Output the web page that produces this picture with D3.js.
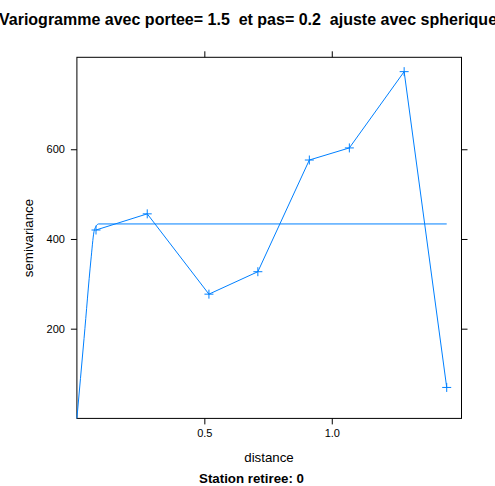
<!doctype html>
<html lang="fr">
<head>
  <meta charset="utf-8">
  <title>Variogramme</title>
  <script src="https://d3js.org/d3.v7.min.js"></script>
  <style>
    body { margin: 0; background: #fff; }
    text { font-family: "Liberation Sans", Arial, sans-serif; }
  </style>
</head>
<body>
<svg id="chart" width="495" height="486"></svg>
<script>
// empirical variogram (distance, semivariance)
var dist  = [0.075, 0.276, 0.518, 0.710, 0.912, 1.069, 1.284, 1.451];
var gamma = [420, 456, 277, 327, 576, 603, 773, 69];

// fitted spherical model
var modelDist  = [0, 0.028, 0.055, 0.067, 0.075, 0.085, 1.451];
var modelGamma = [0, 178, 353, 416, 428, 433.5, 433.5];

var xTicks = [0.5, 1.0];
var yTicks = [200, 400, 600];

var svg = d3.select("#chart");
var blue = "#0080ff";

var x = d3.scaleLinear().domain([0, 1.509]).range([76.9, 461.5]);
var y = d3.scaleLinear().domain([0, 805]).range([418.4, 57.3]);

// title (wider than the page, as in the original plot)
svg.append("text")
  .attr("x", 248).attr("y", 25)
  .attr("text-anchor", "middle")
  .style("font-size", "16px").style("font-weight", "bold")
  .style("white-space", "pre")
  .text("Variogramme avec portee= 1.5  et pas= 0.2  ajuste avec spherique");

// panel box
svg.append("rect")
  .attr("x", x.range()[0]).attr("y", y.range()[1])
  .attr("width", x.range()[1] - x.range()[0])
  .attr("height", y.range()[0] - y.range()[1])
  .attr("fill", "none").attr("stroke", "#000").attr("stroke-width", 1);

// axes: labels only bottom/left, ticks on all four sides
var fmtX = d3.format(".1f");
function styleAxis(g, showLabels) {
  g.select(".domain").remove();
  g.selectAll(".tick line").attr("stroke", "#000");
  g.selectAll(".tick text")
    .style("font-size", "11px").attr("fill", "#000")
    .style("display", showLabels ? null : "none");
}
svg.append("g").attr("transform", "translate(0," + y.range()[0] + ")")
  .call(d3.axisBottom(x).tickValues(xTicks).tickFormat(fmtX).tickSize(6).tickPadding(5))
  .call(function(g) { styleAxis(g, true); });
svg.append("g").attr("transform", "translate(0," + y.range()[1] + ")")
  .call(d3.axisTop(x).tickValues(xTicks).tickSize(6))
  .call(function(g) { styleAxis(g, false); });
svg.append("g").attr("transform", "translate(" + x.range()[0] + ",0)")
  .call(d3.axisLeft(y).tickValues(yTicks).tickSize(6).tickPadding(6))
  .call(function(g) { styleAxis(g, true); });
svg.append("g").attr("transform", "translate(" + x.range()[1] + ",0)")
  .call(d3.axisRight(y).tickValues(yTicks).tickSize(6))
  .call(function(g) { styleAxis(g, false); });

// axis titles
svg.append("text")
  .attr("x", 269).attr("y", 462)
  .attr("text-anchor", "middle")
  .style("font-size", "13.3px")
  .text("distance");
svg.append("text")
  .attr("transform", "translate(33,238) rotate(-90)")
  .attr("text-anchor", "middle")
  .style("font-size", "13.3px")
  .text("semivariance");
svg.append("text")
  .attr("x", 251.5).attr("y", 483)
  .attr("text-anchor", "middle")
  .style("font-size", "13.3px").style("font-weight", "bold")
  .text("Station retiree: 0");

// empirical variogram line + points
var pts = dist.map(function(d, i) { return [d, gamma[i]]; });
var line = d3.line().x(function(d) { return x(d[0]); }).y(function(d) { return y(d[1]); });
svg.append("path")
  .attr("d", line(pts))
  .attr("fill", "none").attr("stroke", blue).attr("stroke-width", 1);

svg.append("g").selectAll("path.pt")
  .data(pts)
  .enter()
  .append("path")
    .attr("class", "pt")
    .attr("d", function(d) {
      var cx = x(d[0]), cy = y(d[1]), r = 4.5;
      return "M" + (cx - r) + "," + cy + "H" + (cx + r) + "M" + cx + "," + (cy - r) + "V" + (cy + r);
    })
    .attr("stroke", blue).attr("stroke-width", 1);

// model curve
var model = modelDist.map(function(d, i) { return [d, modelGamma[i]]; });
svg.append("path")
  .attr("d", line.curve(d3.curveMonotoneX)(model))
  .attr("fill", "none").attr("stroke", blue).attr("stroke-width", 1);
</script>
</body>
</html>
